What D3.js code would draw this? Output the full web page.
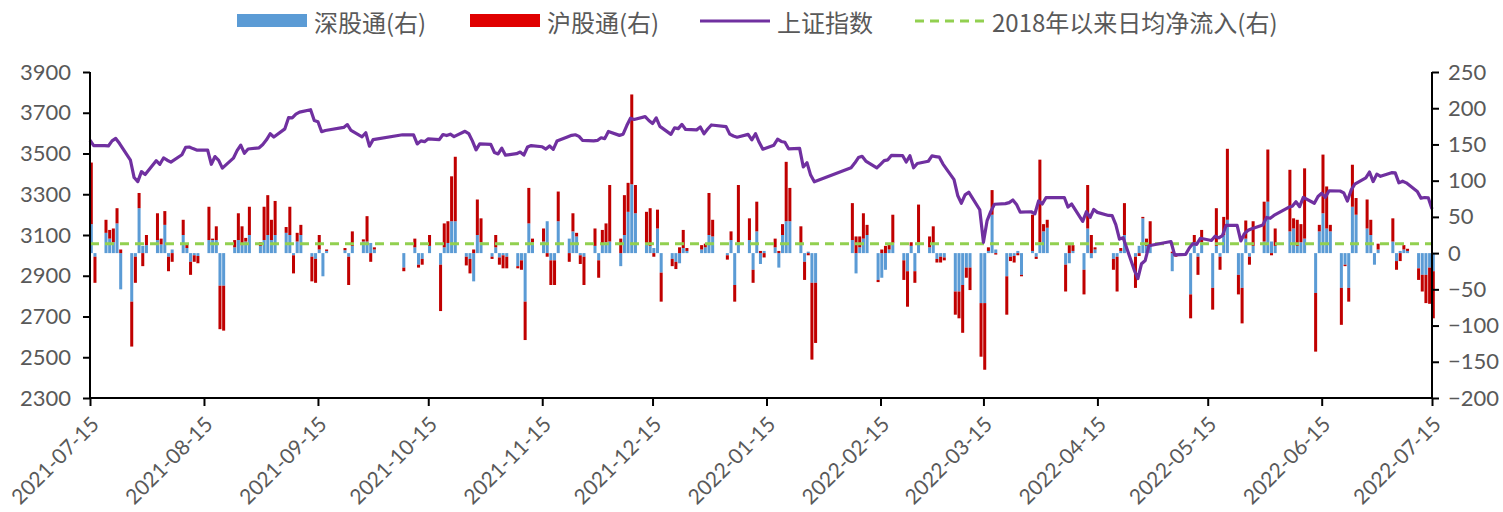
<!DOCTYPE html>
<html><head><meta charset="utf-8">
<script src="https://cdnjs.cloudflare.com/ajax/libs/d3/7.8.5/d3.min.js"></script>
<style>
html,body{margin:0;padding:0;background:#fff;}
svg{display:block;}
text{font-family: Lato, "Noto Sans CJK SC", sans-serif; fill:#595959;}
.legend text{font-family:"Noto Sans CJK SC", sans-serif;}
</style></head><body>
<svg id="chart" width="1503" height="512"></svg>
<script>
// ---------- DATA ----------
const seriesNames = ["深股通(右)", "沪股通(右)", "上证指数", "2018年以来日均净流入(右)"];

const dates = [
"2021-07-15","2021-07-16","2021-07-19","2021-07-20","2021-07-21","2021-07-22","2021-07-23","2021-07-26","2021-07-27","2021-07-28","2021-07-29","2021-07-30",
"2021-08-02","2021-08-03","2021-08-04","2021-08-05","2021-08-06","2021-08-09","2021-08-10","2021-08-11","2021-08-12","2021-08-13","2021-08-16","2021-08-17","2021-08-18","2021-08-19","2021-08-20","2021-08-23","2021-08-24","2021-08-25","2021-08-26","2021-08-27","2021-08-30","2021-08-31",
"2021-09-01","2021-09-02","2021-09-03","2021-09-06","2021-09-07","2021-09-08","2021-09-09","2021-09-10","2021-09-13","2021-09-14","2021-09-15","2021-09-16","2021-09-17","2021-09-22","2021-09-23","2021-09-24","2021-09-27","2021-09-28","2021-09-29","2021-09-30",
"2021-10-08","2021-10-11","2021-10-12","2021-10-13","2021-10-14","2021-10-15","2021-10-18","2021-10-19","2021-10-20","2021-10-21","2021-10-22","2021-10-25","2021-10-26","2021-10-27","2021-10-28","2021-10-29",
"2021-11-01","2021-11-02","2021-11-03","2021-11-04","2021-11-05","2021-11-08","2021-11-09","2021-11-10","2021-11-11","2021-11-12","2021-11-15","2021-11-16","2021-11-17","2021-11-18","2021-11-19","2021-11-22","2021-11-23","2021-11-24","2021-11-25","2021-11-26","2021-11-29","2021-11-30",
"2021-12-01","2021-12-02","2021-12-03","2021-12-06","2021-12-07","2021-12-08","2021-12-09","2021-12-10","2021-12-13","2021-12-14","2021-12-15","2021-12-16","2021-12-17","2021-12-20","2021-12-21","2021-12-22","2021-12-23","2021-12-24","2021-12-27","2021-12-28","2021-12-29","2021-12-30","2021-12-31",
"2022-01-04","2022-01-05","2022-01-06","2022-01-07","2022-01-10","2022-01-11","2022-01-12","2022-01-13","2022-01-14","2022-01-17","2022-01-18","2022-01-19","2022-01-20","2022-01-21","2022-01-24","2022-01-25","2022-01-26","2022-01-27","2022-01-28",
"2022-02-07","2022-02-08","2022-02-09","2022-02-10","2022-02-11","2022-02-14","2022-02-15","2022-02-16","2022-02-17","2022-02-18","2022-02-21","2022-02-22","2022-02-23","2022-02-24","2022-02-25","2022-02-28",
"2022-03-01","2022-03-02","2022-03-03","2022-03-04","2022-03-07","2022-03-08","2022-03-09","2022-03-10","2022-03-11","2022-03-14","2022-03-15","2022-03-16","2022-03-17","2022-03-18","2022-03-21","2022-03-22","2022-03-23","2022-03-24","2022-03-25","2022-03-28","2022-03-29","2022-03-30","2022-03-31",
"2022-04-01","2022-04-06","2022-04-07","2022-04-08","2022-04-11","2022-04-12","2022-04-13","2022-04-14","2022-04-15","2022-04-18","2022-04-19","2022-04-20","2022-04-21","2022-04-22","2022-04-25","2022-04-26","2022-04-27","2022-04-28","2022-04-29",
"2022-05-05","2022-05-06","2022-05-09","2022-05-10","2022-05-11","2022-05-12","2022-05-13","2022-05-16","2022-05-17","2022-05-18","2022-05-19","2022-05-20","2022-05-23","2022-05-24","2022-05-25","2022-05-26","2022-05-27","2022-05-30","2022-05-31",
"2022-06-01","2022-06-02","2022-06-06","2022-06-07","2022-06-08","2022-06-09","2022-06-10","2022-06-13","2022-06-14","2022-06-15","2022-06-16","2022-06-17","2022-06-20","2022-06-21","2022-06-22","2022-06-23","2022-06-24","2022-06-27","2022-06-28","2022-06-29","2022-06-30",
"2022-07-01","2022-07-04","2022-07-05","2022-07-06","2022-07-07","2022-07-08","2022-07-11","2022-07-12","2022-07-13","2022-07-14","2022-07-15"
];

// 上证指数 (left axis)
const shIndex = [
3565,3539,3539,3537,3562,3574,3550,3467,3382,3362,3411,3397,
3465,3447,3478,3467,3458,3494,3530,3532,3524,3517,3517,3447,3485,3466,3428,3477,3514,3541,3501,3522,3528,3544,
3567,3597,3581,3621,3676,3675,3693,3703,3715,3662,3656,3607,3613,3628,3642,3613,3582,3602,3536,3568,
3592,3591,3547,3562,3558,3572,3568,3593,3588,3595,3583,3609,3598,3562,3518,3547,
3545,3505,3498,3526,3492,3499,3507,3492,3532,3539,3533,3522,3537,3520,3561,3582,3589,3592,3584,3564,3562,3564,
3577,3573,3608,3589,3595,3637,3673,3667,3681,3662,3647,3675,3633,3594,3626,3622,3643,3618,3616,3630,3597,3620,3640,
3632,3595,3586,3580,3594,3567,3597,3555,3521,3541,3570,3559,3555,3523,3525,3434,3455,3394,3361,
3430,3453,3480,3486,3463,3429,3447,3465,3469,3491,3490,3458,3489,3430,3451,3462,
3488,3485,3482,3448,3372,3294,3256,3297,3310,3224,3064,3171,3216,3251,3254,3259,3272,3250,3212,3214,3204,3267,3252,
3283,3284,3237,3252,3167,3214,3186,3225,3211,3196,3195,3151,3080,3087,2929,2886,2959,2975,3047,
3068,3002,3005,3036,3058,3054,3084,3073,3094,3086,3097,3147,3147,3071,3107,3123,3131,3149,3186,
3182,3196,3236,3241,3263,3239,3285,3256,3289,3305,3285,3317,3316,3307,3267,3320,3350,3380,3409,3362,3399,
3388,3406,3405,3356,3364,3356,3314,3281,3284,3282,3228
];

// 深股通 net inflow (right axis)
const szConnect = [
40,-5,28,20,15,41,-50,-67,-5,62,10,11,
18,12,39,-5,5,25,7,-12,-3,-4,18,18,18,-45,-45,8,18,11,16,25,10,18,
25,18,25,28,25,-3,16,25,-5,-8,5,-32,3,4,-5,10,16,16,14,5,
-20,8,-16,-8,null,10,-16,8,14,44,44,-5,-8,-39,25,15,
-5,8,-6,-3,-5,-18,-10,-67,41,15,16,44,-10,-10,44,20,30,23,-3,-5,10,-10,
11,15,16,-18,25,57,95,55,12,10,7,34,-27,-8,-12,-14,7,3,null,5,8,25,23,
-3,18,-44,15,18,-23,30,-15,3,8,-20,25,44,44,11,-12,2,-41,-41,
18,-28,8,20,25,-37,-34,-23,5,14,-10,-25,10,-25,15,8,
12,-8,-5,-6,-53,-53,-44,-20,-20,-69,-69,3,53,5,-32,-5,-4,3,-30,3,-5,15,30,
35,-16,-14,3,-23,34,-7,5,null,null,-8,-5,3,25,-5,10,48,10,11,
-25,-3,null,-57,15,-5,15,-48,10,-5,25,46,-30,-48,20,-5,10,16,71,
16,10,30,34,10,15,20,-55,30,55,34,30,-48,-16,-48,64,53,34,25,-16,5,
null,16,-11,3,5,3,-21,-30,-30,-20,-25
];

// 沪股通 net inflow (right axis)
const shConnect = [
85,-36,18,12,19,21,5,-62,-36,21,-18,14,
37,8,19,-20,-12,21,5,-18,-9,-10,46,2,19,-60,-62,10,37,26,5,39,5,46,
55,28,47,8,39,-25,12,14,-34,-33,20,0,2,3,-39,20,3,35,-12,3,
-5,12,-4,-8,null,15,-64,33,30,62,89,-12,-20,5,49,33,
-3,17,-10,-18,-16,-3,-13,-53,49,5,18,-5,-34,-34,41,-12,25,5,-12,-39,24,-24,
21,26,78,20,55,40,124,39,45,52,-5,26,-40,-10,-10,8,25,4,null,6,5,58,23,
-6,12,-23,79,30,-18,41,3,-6,12,3,15,82,46,26,-25,-3,-106,-83,
51,23,15,35,14,-3,5,10,8,39,-27,-49,5,-16,52,15,
25,-5,-8,-4,-32,-37,-66,-14,-31,-74,-92,5,34,-2,-53,-6,-9,-3,-2,50,-3,114,10,
11,-37,11,8,-34,60,25,3,null,null,-15,-48,4,44,-43,-4,2,10,33,
2,-2,null,-33,10,-25,17,-30,52,-18,25,98,-27,-49,25,-11,34,55,72,
-3,24,85,14,36,25,97,-81,9,81,58,9,-51,-2,-19,58,23,40,21,0,8,
null,32,-12,-11,6,3,-16,-23,-39,-50,-65
];

// 2018年以来日均净流入 (right axis)
const avgInflow2018 = 13;

const leftTicks = [2300,2500,2700,2900,3100,3300,3500,3700,3900];
const rightTicks = [-200,-150,-100,-50,0,50,100,150,200,250];
const xTickLabels = ["2021-07-15","2021-08-15","2021-09-15","2021-10-15","2021-11-15","2021-12-15","2022-01-15","2022-02-15","2022-03-15","2022-04-15","2022-05-15","2022-06-15","2022-07-15"];

// ---------- CHART ----------
const parse = d3.timeParse("%Y-%m-%d");
const fmt = d3.timeFormat("%Y-%m-%d");
const svg = d3.select("#chart");

const L = 90, R = 1432, T = 72, B = 398;
const x = d3.scaleTime().domain([parse("2021-07-15"), parse("2022-07-15")]).range([L, R]);
const yL = d3.scaleLinear().domain([2300, 3900]).range([B, T]);
const yR = d3.scaleLinear().domain([-200, 250]).range([B, T]);

const rows = dates.map((d, i) => ({date: parse(d), sz: szConnect[i], sh: shConnect[i], idx: shIndex[i]}));
const stack = d3.stack().keys(["sz", "sh"]).value((d, k) => d[k] == null ? 0 : d[k]).offset(d3.stackOffsetDiverging);
const stacked = stack(rows);
const colors = {sz: "#5B9BD5", sh: "#C00000"};
const dayW = x(parse("2021-07-16")) - x(parse("2021-07-15"));
const bw = dayW * 0.82;
const shift = dayW * 0.35;

const gBars = svg.append("g");
stacked.forEach(layer => {
  gBars.append("g").attr("fill", colors[layer.key])
    .selectAll("rect")
    .data(layer.filter(p => p.data[layer.key] != null && p.data[layer.key] !== 0))
    .join("rect")
    .attr("x", p => x(p.data.date) + shift - bw / 2)
    .attr("width", bw)
    .attr("y", p => yR(Math.max(p[0], p[1])))
    .attr("height", p => Math.abs(yR(p[0]) - yR(p[1])));
});

// dashed average line
svg.append("line")
  .attr("x1", L).attr("x2", R)
  .attr("y1", yR(avgInflow2018)).attr("y2", yR(avgInflow2018))
  .attr("stroke", "#92D050").attr("stroke-width", 3).attr("stroke-dasharray", "9,6");

// index line
svg.append("path").datum(rows)
  .attr("fill", "none").attr("stroke", "#7030A0").attr("stroke-width", 3.2)
  .attr("stroke-linejoin", "round")
  .attr("d", d3.line().x(d => x(d.date)).y(d => yL(d.idx)));

// axes
const axisColor = "#000";
const gLeft = svg.append("g").attr("transform", `translate(${L},0)`)
  .call(d3.axisLeft(yL).tickValues(leftTicks).tickSize(7).tickPadding(12).tickFormat(d3.format("d")));
const gRight = svg.append("g").attr("transform", `translate(${R},0)`)
  .call(d3.axisRight(yR).tickValues(rightTicks).tickSize(7).tickPadding(9).tickFormat(d3.format("d")));
const gBottom = svg.append("g").attr("transform", `translate(0,${B})`)
  .call(d3.axisBottom(x).tickValues(xTickLabels.map(parse)).tickSize(8).tickFormat(fmt));

[gLeft, gRight, gBottom].forEach(g => {
  g.select(".domain").attr("stroke", axisColor).attr("stroke-width", 2);
  g.selectAll(".tick line").attr("stroke", axisColor).attr("stroke-width", 2);
  g.selectAll("text").attr("fill", "#595959").style("font-size", "22px").style("font-family", "Lato, sans-serif");
});
gLeft.select(".domain").attr("d", `M0,${B}V${T}`);
gRight.select(".domain").attr("d", `M0,${B}V${T}`);
gBottom.select(".domain").attr("d", `M${L},0H${R}`);

gBottom.selectAll(".tick text")
  .attr("text-anchor", "end")
  .attr("dy", null).attr("y", 0)
  .attr("transform", "translate(6,24) rotate(-45)")
  .attr("dominant-baseline", "middle")
  .style("font-size", "21px");

// legend
const lg = svg.append("g").attr("class", "legend");
const items = [
  {x: 237, type: "rect", color: "#5B9BD5", label: seriesNames[0]},
  {x: 470, type: "rect", color: "#E00000", label: seriesNames[1]},
  {x: 700, type: "line", color: "#7030A0", label: seriesNames[2]},
  {x: 915, type: "dash", color: "#92D050", label: seriesNames[3]}
];
items.forEach(it => {
  if (it.type === "rect") {
    lg.append("rect").attr("x", it.x).attr("y", 14).attr("width", 70).attr("height", 13).attr("fill", it.color);
  } else {
    lg.append("line").attr("x1", it.x).attr("x2", it.x + 70).attr("y1", 21).attr("y2", 21)
      .attr("stroke", it.color).attr("stroke-width", 3)
      .attr("stroke-dasharray", it.type === "dash" ? "9,6" : null);
  }
  lg.append("text").attr("x", it.x + 77).attr("y", 21).attr("dominant-baseline", "central")
    .style("font-size", "24px").attr("fill", "#595959").text(it.label);
});
</script>
</body></html>
